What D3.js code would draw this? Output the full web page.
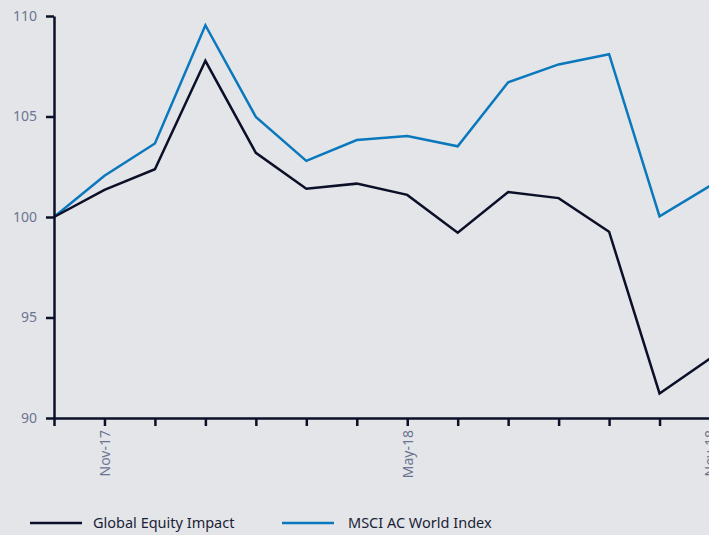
<!DOCTYPE html>
<html>
<head>
<meta charset="utf-8">
<script src="https://cdn.jsdelivr.net/npm/d3@7"></script>
<style>
  html, body { margin: 0; padding: 0; background: #e4e5e9; overflow: hidden; }
  svg { display: block; }
</style>
</head>
<body>
<script>
// months, Oct-17 .. Nov-18
const months = ["Oct-17", "Nov-17", "Dec-17", "Jan-18", "Feb-18", "Mar-18", "Apr-18",
    "May-18", "Jun-18", "Jul-18", "Aug-18", "Sep-18", "Oct-18", "Nov-18"];
const shownLabels = ["Nov-17", "May-18", "Nov-18"];
const globalEquity = [100, 101.35, 102.38, 107.77, 103.19, 101.41, 101.66, 101.10, 99.22, 101.24, 100.94, 99.27, 91.22, 92.96];
const msciWorld = [100, 102.05, 103.66, 109.54, 104.98, 102.79, 103.83, 104.03, 103.52, 106.70, 107.59, 108.10, 100.03, 101.55];
const yTicks = [90, 95, 100, 105, 110];
const seriesNames = ["Global Equity Impact", "MSCI AC World Index"];
const seriesColors = ["#0b1028", "#0a78bd"];

const width = 709, height = 535;
const margin = { top: 16, right: -1, bottom: 117, left: 54 };

const svg = d3.select("body").append("svg")
    .attr("width", width)
    .attr("height", height);

const x = d3.scalePoint()
    .domain(months)
    .range([margin.left, width - margin.right]);

const y = d3.scaleLinear()
    .domain([90, 110])
    .range([height - margin.bottom, margin.top]);

const axisColor = "#0b1028";
const tickText = "#6b7591";
const font = "'Noto Sans', sans-serif";

// lines
const line = d3.line()
    .x((d, i) => x(months[i]))
    .y(d => y(d));

[msciWorld, globalEquity].forEach((s, k) => {
    svg.append("path")
        .datum(s)
        .attr("fill", "none")
        .attr("stroke", k == 0 ? seriesColors[1] : seriesColors[0])
        .attr("stroke-width", 2.5)
        .attr("stroke-linejoin", "miter")
        .attr("d", line);
});

// y axis
const yAxis = svg.append("g")
    .attr("transform", "translate(" + margin.left + ",0)")
    .call(d3.axisLeft(y).tickValues(yTicks).tickSize(8).tickSizeOuter(0).tickPadding(9));

// x axis
const xAxis = svg.append("g")
    .attr("transform", "translate(0," + y(90) + ")")
    .call(d3.axisBottom(x).tickSize(8).tickSizeOuter(0)
        .tickFormat(d => shownLabels.includes(d) ? d : ""));

xAxis.selectAll("text")
    .attr("transform", "rotate(-90)")
    .attr("x", -12)
    .attr("y", 0)
    .attr("dy", "0.35em")
    .style("text-anchor", "end");

[yAxis, xAxis].forEach(a => {
    a.select(".domain").attr("stroke", axisColor).attr("stroke-width", 2.5);
    a.selectAll(".tick line").attr("stroke", axisColor).attr("stroke-width", 2.5);
    a.selectAll("text")
        .attr("fill", tickText)
        .style("font-family", font)
        .style("font-size", "14px");
});

// legend
const legendPos = [30, 282];
seriesNames.forEach((name, i) => {
    const g = svg.append("g").attr("transform", "translate(" + legendPos[i] + ",523)");
    g.append("line")
        .attr("x1", 0).attr("x2", 52)
        .attr("stroke", seriesColors[i])
        .attr("stroke-width", 2.5);
    g.append("text")
        .attr("x", i == 0 ? 63 : 66)
        .attr("dy", "0.35em")
        .attr("fill", "#1a1f36")
        .style("font-family", font)
        .style("font-size", "14.5px")
        .text(name);
});
</script>
</body>
</html>
